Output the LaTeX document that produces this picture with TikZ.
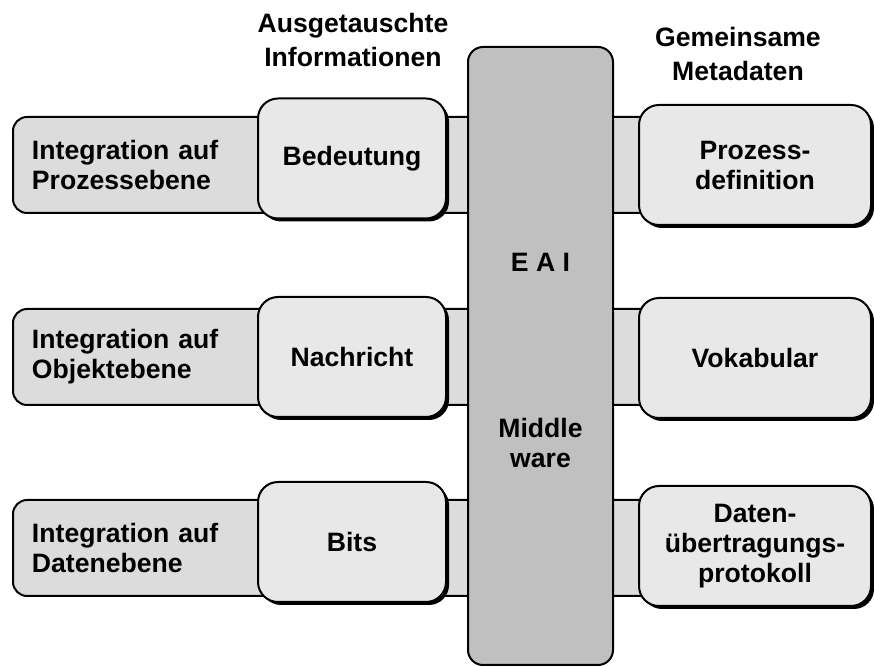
\documentclass[tikz,border=0pt]{standalone}
\usepackage{fontspec}
\setmainfont{Liberation Sans}
\usetikzlibrary{shadows}

\definecolor{bandgray}{HTML}{DCDCDC}
\definecolor{boxgray}{HTML}{E8E8E8}
\definecolor{mwgray}{HTML}{C0C0C0}

\tikzset{
  band/.style={draw, line width=1pt, fill=bandgray, rounded corners=7pt,
    minimum width=323.5pt, minimum height=48pt, text width=304.5pt,
    inner xsep=9.5pt, align=left},
  infobox/.style={draw, line width=1pt, fill=boxgray, rounded corners=10pt,
    minimum width=94pt, minimum height=60pt, align=center,
    drop shadow={shadow xshift=1.5pt, shadow yshift=-1.5pt, fill=black, opacity=1}},
  metabox/.style={infobox, minimum width=116pt},
  head/.style={align=center, font=\bfseries\fontsize{13.3}{17}\selectfont}
}

\begin{document}
\begin{tikzpicture}[x=0.5pt, y=-0.5pt, font=\bfseries\fontsize{13.3}{15}\selectfont]
  \useasboundingbox (0,0) rectangle (874,667);
  % headings
  \node[head] (hinfo) at (353,40) {Ausgetauschte\\Informationen};
  \node[head] (hmeta) at (738,54) {Gemeinsame\\Metadaten};
  % bands behind everything
  \node[band] (b1) at (336.5,165) {Integration auf\\Prozessebene};
  \node[band] (b2) at (336.5,357) {Integration auf\\Objektebene};
  \node[band] (b3) at (336.5,548) {Integration auf\\Datenebene};
  % middleware column
  \node[draw, line width=1pt, fill=mwgray, rounded corners=7.5pt,
        minimum width=72.5pt, minimum height=309pt] (mw) at (540.5,356) {};
  \node (eai) at (540.5,262) {E A I};
  \node[align=center] (mid) at (540.5,443) {Middle\\ware};
  % exchanged information
  \node[infobox] (i1) at (352,158.5) {Bedeutung};
  \node[infobox] (i2) at (352,357) {Nachricht};
  \node[infobox] (i3) at (352,542) {Bits};
  % shared metadata
  \node[metabox] (m1) at (755,165) {Prozess-\\definition};
  \node[metabox] (m2) at (755,358) {Vokabular};
  \node[metabox] (m3) at (755,546) {Daten-\\übertragungs-\\protokoll};
\end{tikzpicture}
\end{document}
